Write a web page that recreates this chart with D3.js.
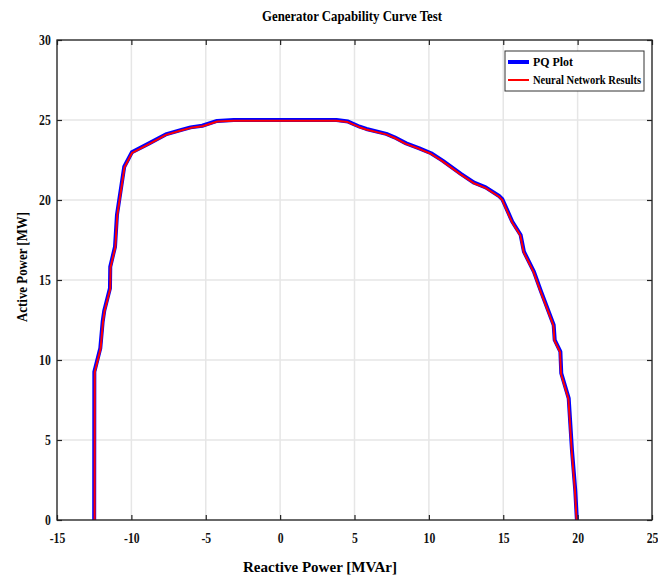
<!DOCTYPE html>
<html>
<head>
<meta charset="utf-8">
<script src="https://cdn.jsdelivr.net/npm/d3@7"></script>
<style>
  body { margin: 0; background: #fff; }
  text { font-family: "Liberation Serif", "Times New Roman", serif; font-weight: bold; }
</style>
</head>
<body>
<svg id="chart" width="658" height="577"></svg>
<script>
// PQ capability curve
var pqQ = [-12.5, -12.49, -12.09, -11.93, -11.82, -11.44, -11.42, -11.10, -10.97, -10.77, -10.48, -9.97, -8.81, -7.69, -6.69, -6.02, -5.24, -4.24, -3.12, 0, 3.79, 4.57, 5.35, 5.80, 7.14, 7.69, 8.47, 9.36, 10.15, 10.92, 12.15, 13.04, 13.82, 14.72, 14.94, 15.61, 16.17, 16.39, 17.06, 17.50, 18.39, 18.46, 18.84, 18.90, 19.40, 19.62, 19.84, 19.95];
var pqP = [0, 9.27, 10.73, 12.4, 13.1, 14.48, 15.83, 17.08, 19.06, 20.3, 22.08, 22.98, 23.54, 24.1, 24.37, 24.54, 24.64, 24.94, 25.0, 25.0, 25.0, 24.9, 24.58, 24.44, 24.13, 23.92, 23.54, 23.23, 22.92, 22.46, 21.63, 21.08, 20.79, 20.25, 20.05, 18.64, 17.81, 16.77, 15.52, 14.38, 12.19, 11.25, 10.52, 9.17, 7.6, 4.37, 1.87, 0];
// neural network output (follows the PQ plot very closely)
var nnQ = [-12.47, -12.46, -12.07, -11.91, -11.80, -11.42, -11.40, -11.08, -10.95, -10.75, -10.46, -9.95, -8.79, -7.67, -6.67, -6.00, -5.22, -4.22, -3.10, 0, 3.77, 4.55, 5.33, 5.78, 7.12, 7.67, 8.45, 9.34, 10.13, 10.90, 12.13, 13.02, 13.80, 14.70, 14.92, 15.59, 16.15, 16.37, 17.04, 17.48, 18.37, 18.44, 18.82, 18.88, 19.38, 19.60, 19.82, 19.93];
var nnP = [0, 9.25, 10.70, 12.37, 13.07, 14.45, 15.80, 17.05, 19.03, 20.27, 22.05, 22.95, 23.51, 24.07, 24.34, 24.51, 24.61, 24.91, 24.96, 24.96, 24.96, 24.87, 24.55, 24.41, 24.10, 23.89, 23.51, 23.20, 22.89, 22.43, 21.60, 21.05, 20.76, 20.22, 20.02, 18.61, 17.78, 16.74, 15.49, 14.35, 12.16, 11.22, 10.49, 9.14, 7.57, 4.34, 1.84, 0];
var xTicks = [-15, -10, -5, 0, 5, 10, 15, 20, 25];
var yTicks = [0, 5, 10, 15, 20, 25, 30];
var seriesNames = ["PQ Plot", "Neural Network Results"];
var seriesColors = ["#0000ff", "#ff0000"];

var svg = d3.select('#chart');
var mLeft = 57, mRight = 652, mTop = 40, mBottom = 520;
var x = d3.scaleLinear().domain([-15, 25]).range([mLeft, mRight]);
var y = d3.scaleLinear().domain([0, 30]).range([mBottom, mTop]);
var fmt = function(d) { return String(d); };

// grid
svg.append('g').selectAll('line').data(xTicks).enter().append('line')
  .attr('x1', function(d) { return x(d); }).attr('x2', function(d) { return x(d); })
  .attr('y1', mTop).attr('y2', mBottom)
  .attr('stroke', '#e6e6e6').attr('stroke-width', 1.5);
svg.append('g').selectAll('line').data(yTicks).enter().append('line')
  .attr('y1', function(d) { return y(d); }).attr('y2', function(d) { return y(d); })
  .attr('x1', mLeft).attr('x2', mRight)
  .attr('stroke', '#e6e6e6').attr('stroke-width', 1.5);

// curves
var pq = pqQ.map(function(q, i) { return [q, pqP[i]]; });
var nn = nnQ.map(function(q, i) { return [q, nnP[i]]; });
var line = d3.line().x(function(d) { return x(d[0]); }).y(function(d) { return y(d[1]); });
svg.append('path').datum(pq).attr('d', line)
  .attr('fill', 'none').attr('stroke', seriesColors[0]).attr('stroke-width', 4).attr('stroke-linejoin', 'round');
svg.append('path').datum(nn).attr('d', line)
  .attr('fill', 'none').attr('stroke', seriesColors[1]).attr('stroke-width', 2).attr('stroke-linejoin', 'round');

// axes: ticks inside on all four sides, narrow tall tick labels
var tl = 5;
svg.append('g').attr('transform', 'translate(0,' + mBottom + ')')
  .call(d3.axisBottom(x).tickValues(xTicks).tickFormat(fmt).tickSizeInner(-tl).tickSizeOuter(0).tickPadding(12))
  .call(function(g) { g.selectAll('text').attr('font-size', 15).attr('fill', '#111').attr('transform', 'scale(0.78,1)'); });
svg.append('g').attr('transform', 'translate(0,' + mTop + ')')
  .call(d3.axisTop(x).tickValues(xTicks).tickSizeInner(-tl).tickSizeOuter(0).tickFormat(''));
svg.append('g').attr('transform', 'translate(' + mLeft + ',0)')
  .call(d3.axisLeft(y).tickValues(yTicks).tickFormat(fmt).tickSizeInner(-tl).tickSizeOuter(0).tickPadding(8))
  .call(function(g) { g.selectAll('text').attr('font-size', 15).attr('fill', '#111').attr('transform', 'scale(0.78,1)'); });
svg.append('g').attr('transform', 'translate(' + mRight + ',0)')
  .call(d3.axisRight(y).tickValues(yTicks).tickSizeInner(-tl).tickSizeOuter(0).tickFormat(''));
svg.selectAll('.domain').remove();
svg.selectAll('.tick line').attr('stroke', '#222').attr('stroke-width', 1.2);
svg.append('rect').attr('x', mLeft).attr('y', mTop).attr('width', mRight - mLeft).attr('height', mBottom - mTop)
  .attr('fill', 'none').attr('stroke', '#222').attr('stroke-width', 1.3);

// title and labels
svg.append('text').attr('x', 352).attr('y', 21).attr('text-anchor', 'middle')
  .attr('font-size', 15).attr('textLength', 180).attr('lengthAdjust', 'spacingAndGlyphs')
  .text('Generator Capability Curve Test');
svg.append('text').attr('x', 320).attr('y', 572).attr('text-anchor', 'middle')
  .attr('font-size', 15).attr('textLength', 154).attr('lengthAdjust', 'spacingAndGlyphs')
  .text('Reactive Power [MVAr]');
svg.append('text').attr('transform', 'translate(27,267) rotate(-90)').attr('text-anchor', 'middle')
  .attr('font-size', 15).attr('textLength', 110).attr('lengthAdjust', 'spacingAndGlyphs')
  .text('Active Power [MW]');

// legend
var lg = svg.append('g').attr('transform', 'translate(505,51)');
lg.append('rect').attr('width', 139).attr('height', 40).attr('fill', '#fff').attr('stroke', '#333').attr('stroke-width', 1);
var rows = lg.selectAll('g.row').data(seriesNames).enter().append('g')
  .attr('transform', function(d, i) { return 'translate(0,' + (11 + i * 18) + ')'; });
rows.append('line').attr('x1', 3).attr('x2', 24).attr('y1', 0).attr('y2', 0)
  .attr('stroke', function(d, i) { return seriesColors[i]; })
  .attr('stroke-width', function(d, i) { return i === 0 ? 4 : 2; });
rows.append('text').attr('x', 28).attr('y', 4).attr('font-size', 12)
  .attr('textLength', function(d, i) { return i === 0 ? 40 : 108; }).attr('lengthAdjust', 'spacingAndGlyphs')
  .text(function(d) { return d; });
</script>
</body>
</html>
